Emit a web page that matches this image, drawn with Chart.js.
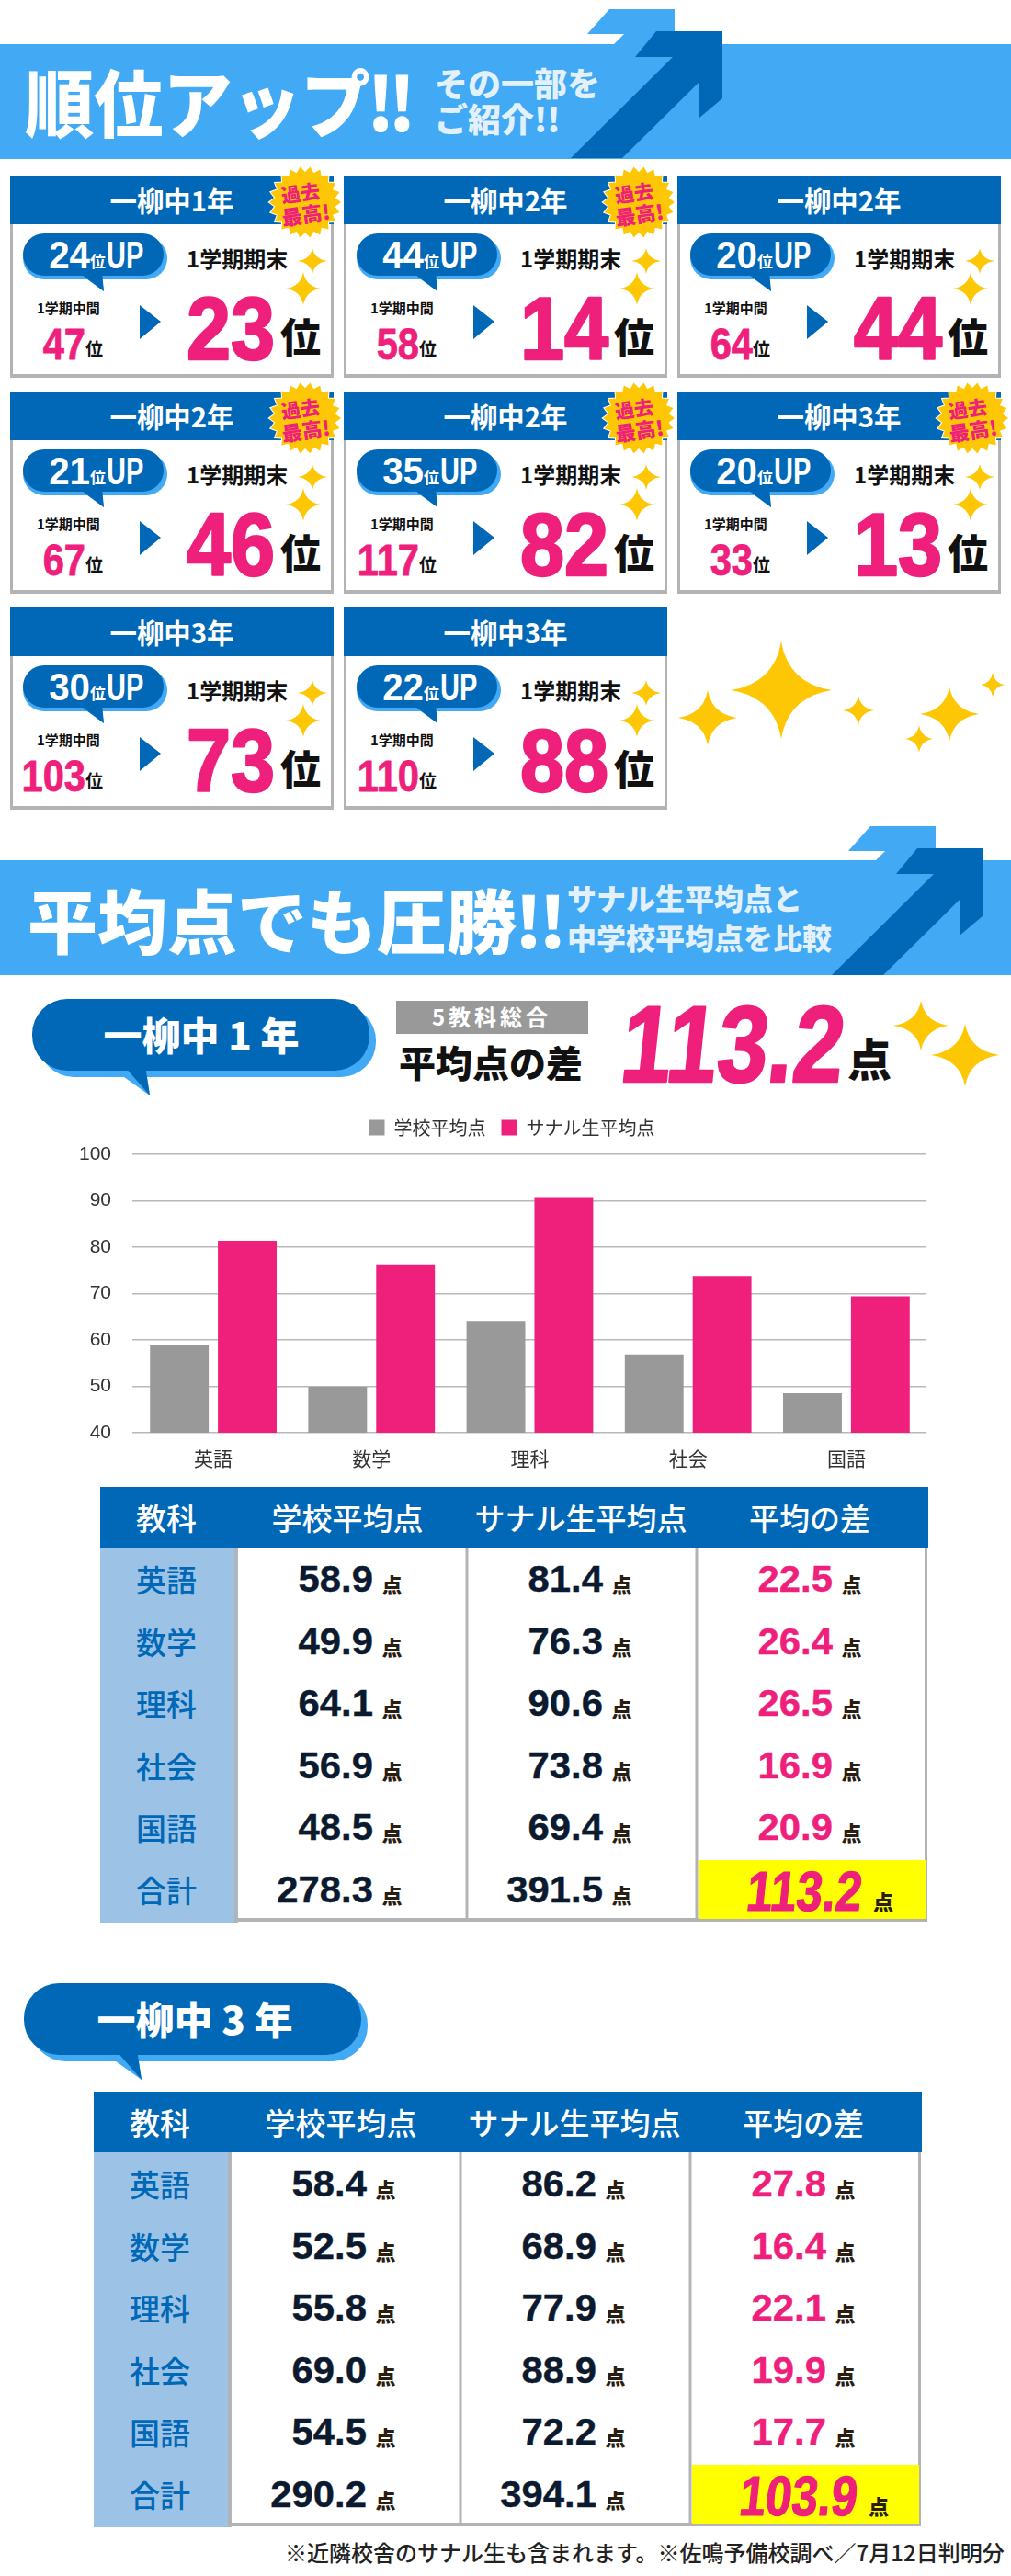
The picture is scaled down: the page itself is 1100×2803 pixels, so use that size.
<!DOCTYPE html>
<html lang="ja"><head><meta charset="utf-8"><title>順位アップ</title>
<script src="https://cdn.jsdelivr.net/npm/chart.js@4"></script>
<style>
html,body{margin:0;padding:0;background:#fff;}
#page{position:relative;width:1100px;height:2803px;overflow:hidden;background:#fff;}
#art{position:absolute;left:0;top:0;}
#chartBox{position:absolute;left:40px;top:1197px;width:1034px;height:408px;}
text{font-family:'Noto Sans CJK JP','Noto Sans',sans-serif;}
</style></head><body>
<div id="page"><svg id="art" width="1100" height="2803" viewBox="0 0 1100 2803" xmlns="http://www.w3.org/2000/svg"></svg>
<div id="chartBox"><canvas id="c" width="1034" height="408"></canvas></div></div>
<script>
// ---------- data ----------
const cardGrades = ['一柳中1年','一柳中2年','一柳中2年','一柳中2年','一柳中2年','一柳中3年','一柳中3年','一柳中3年'];
const cardUp     = [24,44,20,21,35,20,30,22];
const cardMid    = [47,58,64,67,117,33,103,110];
const cardFinal  = [23,14,44,46,82,13,73,88];
const cardBest   = [true,true,false,true,true,true,false,false];

const subjects = ['英語','数学','理科','社会','国語'];
const schoolAvg1 = [58.9,49.9,64.1,56.9,48.5];
const sanaruAvg1 = [81.4,76.3,90.6,73.8,69.4];
const diff1 = ['22.5','26.4','26.5','16.9','20.9'];
const total1 = ['278.3','391.5','113.2'];
const schoolAvg3 = ['58.4','52.5','55.8','69.0','54.5'];
const sanaruAvg3 = ['86.2','68.9','77.9','88.9','72.2'];
const diff3 = ['27.8','16.4','22.1','19.9','17.7'];
const total3 = ['290.2','394.1','103.9'];
const tableHead = ['教科','学校平均点','サナル生平均点','平均の差'];
const seriesNames = ['学校平均点','サナル生平均点'];
const yTicks = [40,50,60,70,80,90,100];

// ---------- palette ----------
const BLUE='#0068b7', SKY='#42a9f5', PINK='#ee207c', GOLD='#fdc705', GREY='#b3b3b3', NAVY='#0b1a2e', PALE='#9cc3e5';
const LATIN="'Liberation Sans',Arial,sans-serif";
const NS='http://www.w3.org/2000/svg';
const art=document.getElementById('art');
function el(tag,attrs,parent){const e=document.createElementNS(NS,tag);for(const k in attrs)e.setAttribute(k,attrs[k]);(parent||art).appendChild(e);return e;}
function rect(x,y,w,h,fill,rx,p){return el('rect',{x,y,width:w,height:h,fill,rx:rx||0},p);}
function poly(pts,fill,p){return el('polygon',{points:pts.map(a=>a.join(',')).join(' '),fill},p);}
function txt(s,x,y,size,fill,o){o=o||{};
  const t=el('text',{'font-size':size,fill,'font-weight':o.w||700,'text-anchor':o.a||'start',
    transform:`translate(${x},${y}) rotate(${o.r||0}) skewX(${o.sk||0}) scale(${o.sx||1},${o.sy||1})`},o.p);
  if(o.ls)t.setAttribute('letter-spacing',o.ls);
  if(o.f)t.style.fontFamily=o.f;
  if(o.st){t.setAttribute('stroke',fill);t.setAttribute('stroke-width',o.st);t.setAttribute('stroke-linejoin','round');}
  if(o.tail){t.textContent=s;const ts=el('tspan',{dx:o.tailDx,'letter-spacing':o.tailLs},t);ts.textContent=o.tail;}
  else t.textContent=s;
  return t;}
function star(cx,cy,w,h,p){const k=.14;
  return el('path',{d:`M${cx},${cy-h}Q${cx+w*k},${cy-h*k} ${cx+w},${cy}Q${cx+w*k},${cy+h*k} ${cx},${cy+h}Q${cx-w*k},${cy+h*k} ${cx-w},${cy}Q${cx-w*k},${cy-h*k} ${cx},${cy-h}Z`,fill:GOLD},p);}

// ---------- banners ----------
function banner(dx,dy,top,bottom){
  poly([[639,37],[663,10],[734,10],[734,60],[668,60],[668,48],[679,37]].map(a=>[a[0]+dx,a[1]+dy]),SKY);
  rect(0,top,1100,bottom-top,SKY);
  poly([[714,34],[786,34],[786,107],[760,129],[760,90],[677,172],[621,172],[732,62],[691,62]].map(a=>[a[0]+dx,a[1]+dy]),BLUE);
}
banner(0,0,48,173);
txt('順位アップ',27,143,80,'#fff',{w:900,sx:.94,tail:'!!',tailDx:-4,tailLs:-7});
txt('その一部を',473,105,36,'#e3f1fc',{w:900});
txt('ご紹介!!',473,144,36,'#e3f1fc',{w:900});
banner(284,889,936,1061);
txt('平均点でも圧勝',30,1032,76,'#fff',{w:900,tail:'!!',tailDx:-2,tailLs:-4});
txt('サナル生平均点と',617,990,32,'#e3f1fc',{w:900});
txt('中学校平均点を比較',617,1033,32,'#e3f1fc',{w:900});

// ---------- rank cards ----------
function burst(cx,cy,p){const pts=[];const n=22;for(let i=0;i<n*2;i++){const r=i%2?33:39,a=Math.PI*i/n;pts.push([cx+r*Math.cos(a),cy+r*Math.sin(a)]);}
  const g=poly(pts,GOLD,p);g.setAttribute('stroke','#fff');g.setAttribute('stroke-width','2');g.setAttribute('paint-order','stroke');}
function card(i){
  const col=i%3,row=Math.floor(i/3);
  const g=el('g',{transform:`translate(${[11,374,737][col]},${191+row*235})`});
  rect(0,0,352,220,GREY,0,g);
  rect(3,50,346,166,'#fff',0,g);
  rect(0,0,352,53,BLUE,0,g);
  txt(cardGrades[i],176,39,30,'#fff',{a:'middle',p:g,sx:.98});
  // speech bubble
  el('path',{d:'M84,113L102,126L100,113Z',fill:SKY},g);
  rect(14,67,157,46,SKY,23,g);
  rect(14,63,153,46,BLUE,23,g);
  el('path',{d:'M74,105L102,126L100,105Z',fill:BLUE},g);
  txt(String(cardUp[i]),87,101,42,'#fff',{a:'end',p:g,sx:.96,f:LATIN});
  txt('位',87,100,17,'#fff',{p:g});
  txt('UP',105,101,42,'#fff',{p:g,sx:.69,f:LATIN});
  txt('1学期期末',192,100,24,'#111',{p:g,w:700});
  star(329,93,16,14,g);star(319,123,19,18,g);
  txt('1学期中間',29,150,15,'#111',{p:g});
  txt(String(cardMid[i]),82,200,49,PINK,{a:'end',p:g,sx:.85,f:LATIN,st:.8});
  txt('位',82,196,19,'#111',{p:g});
  poly([[141,141],[141,178],[164,159]],BLUE,g);
  txt(String(cardFinal[i]),288,200,96,PINK,{a:'end',p:g,sx:.9,f:LATIN,st:2.5});
  txt('位',294,193,44,'#111',{p:g,w:900});
  if(cardBest[i]){
    burst(321,29,g);
    txt('過去',317,27,21,PINK,{a:'middle',p:g,r:-8,w:900});
    txt('最高!',323,51,22,PINK,{a:'middle',p:g,r:-8,w:900});
  }
}
cardGrades.forEach((_,i)=>card(i));
[[850,751,55,53],[770,781,32,30],[934,773,17,16],[1033,777,32,30],[1000,804,15,15],[1080,745,13,13]].forEach(s=>star(...s));

// ---------- section 1 heading ----------
function bigPill(dx,dy,label,cx){
  rect(42+dx,1094+dy,367,78,SKY,38);
  poly([[135+dx,1172+dy],[163+dx,1192+dy],[160+dx,1172+dy]],SKY);
  rect(35+dx,1087+dy,367,78,BLUE,38);
  poly([[135+dx,1160+dy],[163+dx,1192+dy],[158+dx,1160+dy]],BLUE);
  txt(label,cx,1143+dy,42,'#fff',{a:'middle',w:900});
}
bigPill(0,0,'一柳中 1 年',219);
rect(431,1089,209,36,'#999');
txt('5教科総合',535,1116,24,'#fff',{a:'middle',ls:4});
txt('平均点の差',434,1172,40,'#111',{w:900});
txt('113.2',915,1177,118,PINK,{a:'end',sk:-6,sx:.84,f:LATIN,st:2.5});
txt('点',922,1171,48,'#111',{w:900});
star(1002,1116,30,27);star(1050,1148,37,34);

// ---------- tables ----------
function table(dx,dy,sch,san,dif,tot,bigDx){
  const X=x=>x+dx,Y=y=>y+dy;
  rect(X(258),Y(1684),750,405,'#fff');
  [508,758].forEach(x=>rect(X(x-1.5),Y(1684),3,406,GREY));
  rect(X(1006),Y(1684),3,406,GREY);
  rect(X(258),Y(2087),751,4,GREY);
  rect(X(109),Y(1684),150,408,PALE);
  rect(X(255),Y(1684),3.5,408,GREY);
  rect(X(760),Y(2024),247,64,'#ffff00');
  rect(X(109),Y(1618),901,66,BLUE);
  tableHead.forEach((h,i)=>txt(h,X([181,378,632,881][i]),Y(1665),33,'#fff',{a:'middle',w:500}));
  const labels=subjects.concat(['合計']);
  labels.forEach((s,r)=>{
    const by=Y(1732+67.5*r);
    txt(s,X(181),by,33,BLUE,{a:'middle',w:500});
    const rows=r<5?[sch[r],san[r],dif[r]]:[tot[0],tot[1],tot[2]];
    [406,656,906].forEach((xr,c)=>{
      if(r===5&&c===2)return;
      txt(String(rows[c]),X(xr),by,41,c===2?PINK:NAVY,{a:'end',sx:1.02,f:LATIN,st:.4});
      txt('点',X(xr+20.5),by+1,22,'#2a1d12',{a:'middle',w:900});
    });
  });
  txt(tot[2],X(936+bigDx),Y(2079),61,PINK,{a:'end',sk:-6,sx:.84,f:LATIN,st:1.2});
  txt('点',X(961+bigDx),Y(2078),22,'#2a1d12',{a:'middle',w:900});
}
table(0,0,schoolAvg1.map(v=>v.toFixed(1)),sanaruAvg1.map(v=>v.toFixed(1)),diff1,total1,0);
bigPill(-9,1071,'一柳中 3 年',212);
table(-7,658,schoolAvg3,sanaruAvg3,diff3,total3,2);
txt('※近隣校舎のサナル生も含まれます。※佐鳴予備校調べ／7月12日判明分',310,2787,24,'#222',{w:500});

// ---------- chart ----------
const FONT="'Noto Sans CJK JP','Noto Sans',sans-serif";
const legendRoom={id:'legendRoom',beforeInit(chart){const f=chart.legend.fit;chart.legend.fit=function(){f.call(this);this.height+=9;};}};
new Chart(document.getElementById('c'),{
  type:'bar',
  plugins:[legendRoom],
  data:{labels:subjects,datasets:[
    {label:seriesNames[0],data:schoolAvg1,backgroundColor:'#999999'},
    {label:seriesNames[1],data:sanaruAvg1,backgroundColor:PINK}]},
  options:{
    responsive:false,animation:false,devicePixelRatio:1,
    layout:{padding:{left:0,right:0,top:3,bottom:0}},
    datasets:{bar:{categoryPercentage:.858,barPercentage:.865}},
    plugins:{legend:{display:true,position:'top',labels:{boxWidth:17,boxHeight:17,padding:17,color:'#333',font:{family:FONT,size:20}}},tooltip:{enabled:false}},
    scales:{
      x:{grid:{display:false},border:{display:false},ticks:{color:'#333',padding:7,font:{family:FONT,size:21}},afterFit(s){s.height=46;}},
      y:{min:yTicks[0],max:yTicks[yTicks.length-1],
        grid:{color:'#b8b8b8',lineWidth:1.5,drawTicks:true,tickLength:2,tickColor:'#b8b8b8'},border:{display:false},
        ticks:{stepSize:10,color:'#333',padding:23,font:{family:LATIN,size:21}},
        afterFit(s){s.width=106;}},
      yRight:{position:'right',min:yTicks[0],max:yTicks[yTicks.length-1],grid:{display:false},border:{display:false},ticks:{display:false},afterFit(s){s.width=67;}}
    }
  }
});
</script></body></html>
